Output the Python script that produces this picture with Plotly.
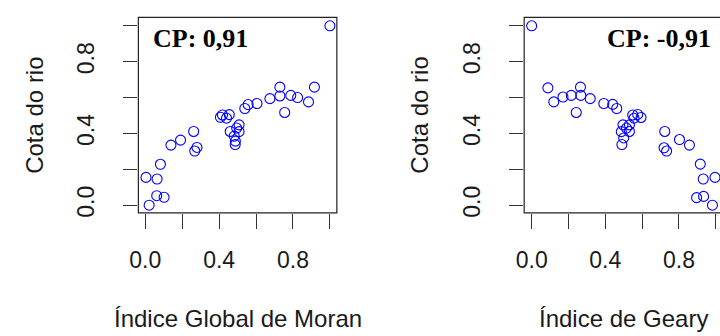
import plotly.graph_objects as go

# ---- data ----
moran_x = [1.000, 0.004, 0.064, 0.082, 0.021, 0.062, 0.102, 0.139, 0.191, 0.262,
           0.268, 0.280, 0.407, 0.418, 0.455, 0.440, 0.460, 0.508, 0.508, 0.482,
           0.488, 0.487, 0.495, 0.539, 0.557, 0.605, 0.675, 0.729, 0.729, 0.755,
           0.788, 0.825, 0.884, 0.916]
moran_y = [1.000, 0.155, 0.146, 0.228, 0.000, 0.053, 0.044, 0.335, 0.363, 0.411,
           0.302, 0.322, 0.490, 0.503, 0.505, 0.485, 0.411, 0.448, 0.410, 0.385,
           0.357, 0.338, 0.430, 0.539, 0.561, 0.567, 0.594, 0.658, 0.609, 0.517,
           0.612, 0.600, 0.576, 0.658]

geary_x = [0.000, 0.088, 0.120, 0.170, 0.215, 0.242, 0.265, 0.267, 0.318, 0.392,
           0.440, 0.462, 0.549, 0.576, 0.594, 0.556, 0.496, 0.531, 0.487, 0.531,
           0.500, 0.490, 0.515, 0.723, 0.719, 0.733, 0.803, 0.857, 0.916, 0.932,
           0.996, 0.896, 0.934, 0.982]
geary_y = [1.000, 0.654, 0.576, 0.603, 0.612, 0.517, 0.658, 0.612, 0.594, 0.567,
           0.562, 0.539, 0.503, 0.506, 0.489, 0.485, 0.448, 0.448, 0.410, 0.411,
           0.375, 0.338, 0.430, 0.411, 0.320, 0.302, 0.366, 0.335, 0.229, 0.146,
           0.155, 0.042, 0.049, 0.000]

tick_vals = [0.0, 0.2, 0.4, 0.6, 0.8, 1.0]
tick_text = ["0.0", "", "0.4", "", "0.8", ""]

x_titles = ["Índice Global de Moran", "Índice de Geary"]
y_title = "Cota do rio"
cp_labels = ["CP: 0,91", "CP: -0,91"]

# ---- layout geometry ----
W, H = 720, 336
FONT = "Liberation Sans, Arial, sans-serif"
TXT = "#1a1a1a"
BLUE = "#0000ff"

def px_x(p):
    return p / W

def px_y(p):
    return (H - p) / H

ydom = [px_y(216), px_y(17.7)]
left_dom = [px_x(131), px_x(332)]
right_dom = [px_x(521.7), 1.0]

fig = go.Figure()
fig.add_trace(go.Scatter(x=moran_x, y=moran_y, mode="markers", xaxis="x", yaxis="y",
                         marker=dict(symbol="circle-open", size=10, color=BLUE,
                                     line=dict(width=1.1, color=BLUE)),
                         showlegend=False, hoverinfo="skip"))
fig.add_trace(go.Scatter(x=geary_x, y=geary_y, mode="markers", xaxis="x2", yaxis="y2",
                         marker=dict(symbol="circle-open", size=10, color=BLUE,
                                     line=dict(width=1.1, color=BLUE)),
                         showlegend=False, hoverinfo="skip"))

xax = dict(tickmode="array", tickvals=tick_vals, ticktext=tick_text,
           ticks="outside", ticklen=15, tickwidth=1, tickcolor="#333",
           showgrid=False, zeroline=False, showline=False,
           tickfont=dict(family=FONT, size=23, color=TXT), ticklabelstandoff=12)
yax = dict(tickmode="array", tickvals=tick_vals, ticktext=tick_text,
           ticks="outside", ticklen=14, tickwidth=1, tickcolor="#333",
           showgrid=False, zeroline=False, showline=False, tickangle=-90,
           tickfont=dict(family=FONT, size=23, color=TXT), ticklabelstandoff=20,
           range=[-0.0423, 1.0467], domain=ydom)

fig.update_layout(
    width=W, height=H, margin=dict(l=0, r=0, t=0, b=0),
    paper_bgcolor="white", plot_bgcolor="white",
    xaxis=dict(xax, domain=left_dom, range=[-0.0374, 1.0375], anchor="y"),
    yaxis=dict(yax, anchor="x"),
    xaxis2=dict(xax, domain=right_dom, range=[-0.0408, 1.0231], anchor="y2"),
    yaxis2=dict(yax, anchor="x2"),
)

# plot boxes
for x0, x1 in [(px_x(131), px_x(332)), (px_x(521.7), px_x(722.6))]:
    fig.add_shape(type="rect", xref="paper", yref="paper", x0=x0, x1=x1,
                  y0=ydom[0], y1=ydom[1], line=dict(color="#222", width=1.2),
                  fillcolor="rgba(0,0,0,0)", layer="above")

# axis titles
for cx, txt in [((131 + 332) / 2, x_titles[0]), ((521.7 + 722.6) / 2, x_titles[1])]:
    fig.add_annotation(xref="paper", yref="paper", x=px_x(cx), y=px_y(323),
                       xanchor="center", yanchor="middle", showarrow=False,
                       text=txt, font=dict(family=FONT, size=24, color=TXT))
for cx in [25, 415.7]:
    fig.add_annotation(xref="paper", yref="paper", x=px_x(cx), y=px_y(116.9),
                       xanchor="center", yanchor="middle", showarrow=False,
                       textangle=-90, text=y_title,
                       font=dict(family=FONT, size=24, color=TXT))

# CP labels
fig.add_annotation(xref="paper", yref="paper", x=px_x(143.5), y=px_y(39.5),
                   xanchor="left", yanchor="middle", showarrow=False,
                   text="<b>" + cp_labels[0] + "</b>",
                   font=dict(family="Liberation Serif, Times New Roman, serif", size=26, color="black"))
fig.add_annotation(xref="paper", yref="paper", x=px_x(713), y=px_y(39.5),
                   xanchor="right", yanchor="middle", showarrow=False,
                   text="<b>" + cp_labels[1] + "</b>",
                   font=dict(family="Liberation Serif, Times New Roman, serif", size=26, color="black"))

fig.write_html("out.html")
